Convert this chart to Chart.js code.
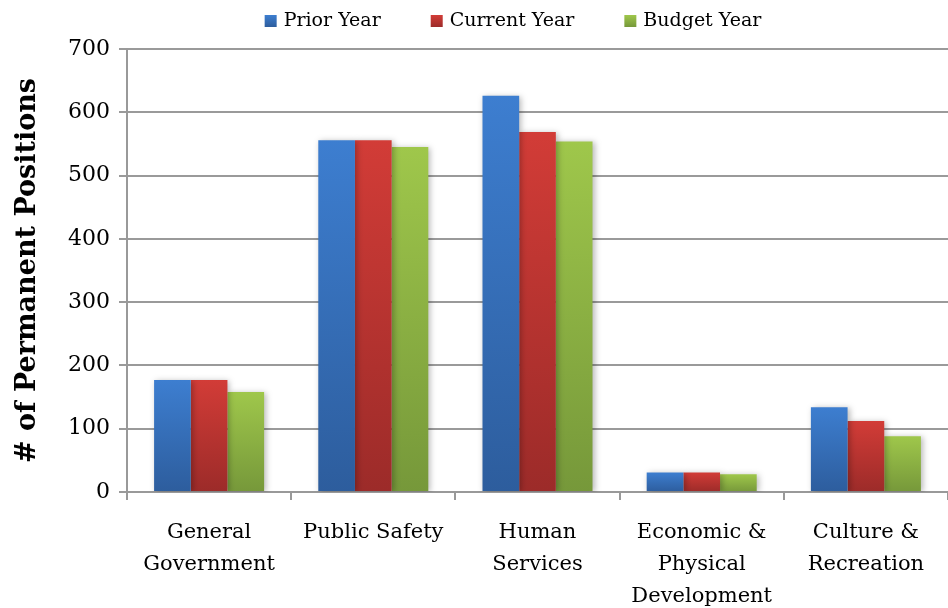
<!DOCTYPE html>
<html>
<head>
<meta charset="utf-8">
<script src="https://cdn.jsdelivr.net/npm/chart.js@4.4.1/dist/chart.umd.min.js"></script>
<style>
  html, body { margin: 0; padding: 0; background: #fff; }
  #wrap { width: 948px; height: 608px; position: relative; }
</style>
</head>
<body>
<div id="wrap"><canvas id="positionsChart"></canvas></div>
<script>
// Permanent positions by service area
const categories = [
  ['General', 'Government'],
  ['Public Safety'],
  ['Human', 'Services'],
  ['Economic &', 'Physical', 'Development'],
  ['Culture &', 'Recreation']
];
const seriesNames = ['Prior Year', 'Current Year', 'Budget Year'];
const priorYear = [177, 556, 626, 31, 134];
const currentYear = [177, 556, 569, 31, 112];
const budgetYear = [158, 545, 554, 28, 88];
const yTicks = [0, 100, 200, 300, 400, 500, 600, 700];

const serif = "'DejaVu Serif', 'Liberation Serif', serif";
const shades = [['#3d7ed0', '#2d5d9d'], ['#d23c37', '#9c2b29'], ['#9fc74b', '#76983a']];

// light top -> dark bottom for each bar
function barGradient(top, bottom) {
  return function (context) {
    const chart = context.chart;
    const yScale = chart.scales.y;
    if (!chart.chartArea || !yScale || context.parsed == null) return top;
    const yTop = yScale.getPixelForValue(context.parsed.y);
    const yBase = yScale.getPixelForValue(0);
    if (!isFinite(yTop) || !isFinite(yBase) || yTop === yBase) return top;
    const g = chart.ctx.createLinearGradient(0, yTop, 0, yBase);
    g.addColorStop(0, top);
    g.addColorStop(1, bottom);
    return g;
  };
}

// soft drop shadow behind the bars
const barShadow = {
  id: 'barShadow',
  beforeDatasetsDraw(chart) {
    const c = chart.ctx;
    c.save();
    c.shadowColor = 'rgba(0,0,0,0.28)';
    c.shadowBlur = 6;
    c.shadowOffsetX = 2;
    c.shadowOffsetY = 1;
  },
  afterDatasetsDraw(chart) {
    chart.ctx.restore();
  }
};

// legend row across the top, spaced wider than the built-in legend allows
const topLegend = {
  id: 'topLegend',
  afterDraw(chart) {
    const c = chart.ctx;
    const box = 12, gap = 7, spacing = 50, midY = 21;
    c.save();
    c.font = '19px ' + serif;
    c.textBaseline = 'middle';
    c.fillStyle = '#000';
    const widths = chart.data.datasets.map(ds => c.measureText(ds.label).width);
    const total = widths.reduce((s, w) => s + box + gap + w, 0) + spacing * (widths.length - 1);
    let x = 513 - total / 2;
    chart.data.datasets.forEach((ds, i) => {
      const g = c.createLinearGradient(0, midY - box / 2, 0, midY + box / 2);
      g.addColorStop(0, shades[i][0]);
      g.addColorStop(1, shades[i][1]);
      c.fillStyle = g;
      c.fillRect(x, midY - box / 2, box, box);
      x += box + gap;
      c.fillStyle = '#000';
      c.fillText(ds.label, x, midY);
      x += widths[i] + spacing;
    });
    c.restore();
  }
};

const ctx = document.getElementById('positionsChart');

new Chart(ctx, {
  type: 'bar',
  data: {
    labels: categories,
    datasets: [priorYear, currentYear, budgetYear].map((values, i) => ({
      label: seriesNames[i],
      data: values,
      backgroundColor: barGradient(shades[i][0], shades[i][1]),
      borderWidth: 0
    }))
  },
  plugins: [barShadow, topLegend],
  options: {
    responsive: true,
    maintainAspectRatio: false,
    animation: false,
    layout: {
      padding: { top: 49, right: 0, bottom: 0, left: 0 }
    },
    datasets: {
      bar: {
        categoryPercentage: 0.67,
        barPercentage: 1.0
      }
    },
    plugins: {
      tooltip: { enabled: false },
      legend: { display: false }
    },
    scales: {
      x: {
        offset: true,
        afterFit(scale) { scale.height = 116; },
        grid: {
          display: true,
          offset: true,
          drawOnChartArea: false,
          drawTicks: true,
          tickLength: 8,
          color: '#999',
          lineWidth: 2
        },
        border: { display: true, color: '#999', width: 2 },
        ticks: {
          font: { family: serif, size: 21, lineHeight: 1.52 },
          color: '#000',
          padding: 17,
          maxRotation: 0,
          autoSkip: false
        }
      },
      y: {
        min: 0,
        max: 700,
        afterFit(scale) { scale.width = 127; },
        afterBuildTicks(axis) {
          axis.ticks = yTicks.map(v => ({ value: v }));
        },
        grid: {
          color: '#9a9a9a',
          lineWidth: 2,
          tickLength: 8
        },
        border: { display: true, color: '#999', width: 2 },
        ticks: {
          font: { family: serif, size: 22 },
          color: '#000',
          padding: 9
        },
        title: {
          display: true,
          text: '# of Permanent Positions',
          font: { family: serif, size: 27, weight: 'bold' },
          color: '#000',
          padding: { top: 12, bottom: 0 }
        }
      }
    }
  }
});
</script>
</body>
</html>
